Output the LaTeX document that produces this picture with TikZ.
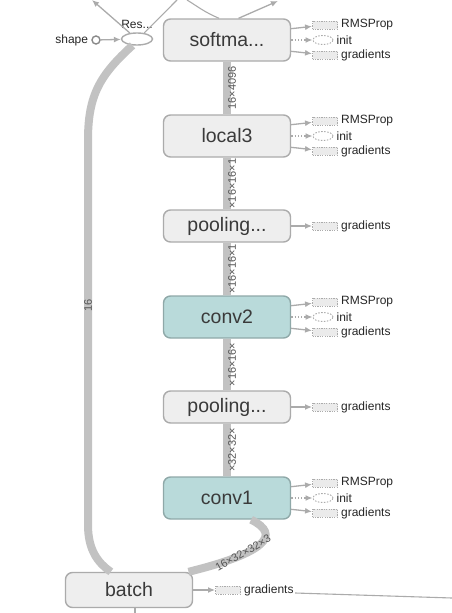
\documentclass[tikz,border=0pt]{standalone}
\usepackage{fontspec}
\setmainfont{Liberation Sans}
\usepackage{tikz}
\usetikzlibrary{arrows,arrows.meta,shapes.geometric}

\definecolor{opfill}{HTML}{EEEEEE}
\definecolor{opline}{HTML}{ABABAB}
\definecolor{convfill}{HTML}{B9DADA}
\definecolor{convline}{HTML}{8FA8A8}
\definecolor{flowcol}{HTML}{C2C2C2}
\definecolor{ctrlcol}{HTML}{ABABAB}
\definecolor{auxfill}{HTML}{EBEBEB}
\definecolor{optext}{HTML}{3A3A3A}
\definecolor{lbltext}{HTML}{555555}

\begin{document}
\begin{tikzpicture}[x=1pt,y=-1pt]
\tikzstyle{op}=[rectangle, rounded corners=7pt, draw=opline, fill=opfill, line width=1.4pt, minimum width=127pt, minimum height=42pt, text=optext, font=\fontsize{19.5}{19.5}\selectfont]
\tikzstyle{conv}=[op, draw=convline, fill=convfill]
\tikzstyle{res}=[ellipse, draw=ctrlcol, fill=white, line width=1.4pt, minimum width=31pt, minimum height=12pt, inner sep=0pt]
\tikzstyle{const}=[circle, draw=ctrlcol!80!black, line width=1.4pt, minimum size=8pt, inner sep=0pt]
\tikzstyle{aux}=[rectangle, draw=ctrlcol, dash pattern=on 1.2pt off 1.2pt, line width=0.9pt, fill=auxfill, minimum width=25pt, minimum height=8pt, inner sep=0pt]
\tikzstyle{auxinit}=[ellipse, draw=ctrlcol, dash pattern=on 1.5pt off 1.5pt, line width=0.9pt, fill=white, minimum width=20pt, minimum height=9pt, inner sep=0pt]
\tikzstyle{small}=[font=\fontsize{12}{12}\selectfont, text=black!85, inner sep=1.5pt]
\tikzstyle{elbl}=[font=\fontsize{11}{11}\selectfont, text=lbltext, inner sep=0pt]
\tikzstyle{flow}=[draw=flowcol, line width=8pt]
\tikzstyle{ctrl}=[-{Latex[length=7pt,width=6pt]}, draw=ctrlcol, line width=1.3pt]
\tikzstyle{thin}=[draw=ctrlcol, line width=1.1pt]
\tikzstyle{every label}=[small, label distance=1.5pt]

\useasboundingbox (0,0) rectangle (452,613);

% main column
\node[op] (soft) at (227,40) {softma...};
\node[op] (local3) at (227,136) {local3};
\node[op, minimum height=32pt] (poolb) at (227,226) {pooling...};
\node[conv] (conv2) at (227,317) {conv2};
\node[op, minimum height=32pt] (poola) at (227,407) {pooling...};
\node[conv] (conv1) at (227,498) {conv1};
\node[op, minimum height=35pt] (batch) at (129,590) {batch};

% reshape and its shape input
\node[res, label={above:Res...}] (res) at (137,39) {};
\node[const, label={left:shape}] (shape) at (96,40) {};

% free ends
\coordinate (topa) at (92,0);
\coordinate (topb) at (177,0);
\coordinate (topc) at (187,0);
\coordinate (topd) at (278,1);
\coordinate (rightend) at (452,598);
\coordinate (bottomend) at (135,613);

% data flow
\draw[flow] (conv1) -- node[elbl, rotate=90, yshift=-5pt] {×32×32×} (poola);
\draw[flow] (poola) -- node[elbl, rotate=90, yshift=-5pt] {×16×16×} (conv2);
\draw[flow] (conv2) -- node[elbl, rotate=90, yshift=-5pt] {×16×16×1} (poolb);
\draw[flow] (poolb) -- node[elbl, rotate=90, yshift=-5pt] {×16×16×1} (local3);
\draw[flow] (local3) -- node[elbl, rotate=90, yshift=-5pt] {16×4096} (soft);
\draw[flow] (batch.17) .. controls (265,553) and (282,535) .. (conv1.-42);
\node[elbl, rotate=30] (inlbl) at (243,553) {16×32×32×3};
\draw[flow] (batch.135) .. controls (98,563) and (88,550) .. (88,525)
  -- node[elbl, rotate=90, pos=0.57] {16} (88,140)
  .. controls (88,95) and (100,75) .. (res.235);

% top edges
\draw[ctrl] (res.140) -- (topa);
\draw[thin] (topb) -- (res.40);
\draw[thin] (topc) .. controls (197,6) and (204,12) .. (soft.110);
\draw[ctrl] (soft.62) -- (topd);
\draw[ctrl] (shape) -- (res);

% softmax vars
\node[aux, label={right:RMSProp}] (softrms) at (325,25) {};
\node[auxinit, label={right:init}] (softinit) at (323,40) {};
\node[aux, label={right:gradients}] (softgrad) at (325,55) {};
\draw[ctrl] (soft.10) -- (softrms);
\draw[ctrl, dotted] (soft) -- (softinit);
\draw[ctrl] (soft.-10) -- (softgrad);

% local3 vars
\node[aux, label={right:RMSProp}] (locrms) at (325,121) {};
\node[auxinit, label={right:init}] (locinit) at (323,136) {};
\node[aux, label={right:gradients}] (locgrad) at (325,151) {};
\draw[ctrl] (local3.10) -- (locrms);
\draw[ctrl, dotted] (local3) -- (locinit);
\draw[ctrl] (local3.-10) -- (locgrad);

% pooling grads
\node[aux, label={right:gradients}] (poolbgrad) at (325,226) {};
\draw[ctrl] (poolb) -- (poolbgrad);
\node[aux, label={right:gradients}] (poolagrad) at (325,407) {};
\draw[ctrl] (poola) -- (poolagrad);

% conv2 vars
\node[aux, label={right:RMSProp}] (c2rms) at (325,302) {};
\node[auxinit, label={right:init}] (c2init) at (323,317) {};
\node[aux, label={right:gradients}] (c2grad) at (325,332) {};
\draw[ctrl] (conv2.10) -- (c2rms);
\draw[ctrl, dotted] (conv2) -- (c2init);
\draw[ctrl] (conv2.-10) -- (c2grad);

% conv1 vars
\node[aux, label={right:RMSProp}] (c1rms) at (325,483) {};
\node[auxinit, label={right:init}] (c1init) at (323,498) {};
\node[aux, label={right:gradients}] (c1grad) at (325,513) {};
\draw[ctrl] (conv1.10) -- (c1rms);
\draw[ctrl, dotted] (conv1) -- (c1init);
\draw[ctrl] (conv1.-10) -- (c1grad);

% batch
\node[aux, label={[name=bglbl]right:gradients}] (bgrad) at (228,590) {};
\draw[ctrl] (batch) -- (bgrad);
\draw[thin] ([yshift=-3pt]bglbl.east) -- (rightend);
\draw[thin] ([xshift=6pt]batch.south) -- (bottomend);
\end{tikzpicture}
\end{document}
